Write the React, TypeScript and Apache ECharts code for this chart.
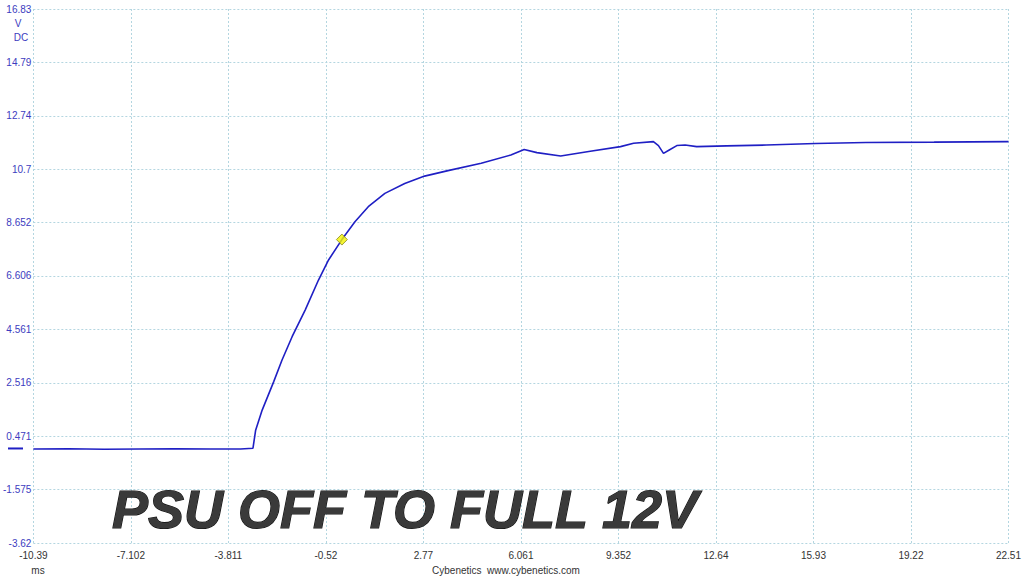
import { useEffect, useRef } from "react";
import * as echarts from "echarts";

// scope capture, time in ms vs volts DC
const TIME_MS = [
  -10.39, -9.2, -8.0, -6.8, -5.6, -4.4, -3.4, -2.98, -2.93, -2.89, -2.67, -2.28, -2.0, -1.66,
  -1.22, -0.77, -0.43, 0.02, 0.46, 0.91, 1.47, 2.14, 2.81, 3.6, 4.72, 5.72, 6.17, 6.6, 7.4, 8.4,
  9.42, 9.86, 10.53, 10.7, 10.87, 11.05, 11.32, 11.6, 11.99, 13.0, 14.34, 16.0, 17.7, 20.0, 22.51,
];
const VOLTS = [
  -0.02, -0.01, -0.03, -0.02, -0.01, -0.02, -0.02, 0.01, 0.4, 0.7, 1.47, 2.56, 3.39, 4.28,
  5.3, 6.45, 7.22, 8.0, 8.68, 9.26, 9.77, 10.15, 10.43, 10.64, 10.92, 11.24, 11.45, 11.33, 11.2,
  11.38, 11.56, 11.69, 11.75, 11.6, 11.3, 11.42, 11.6, 11.62, 11.56, 11.59, 11.62, 11.68, 11.72,
  11.73, 11.75,
];
const MARKER = [0.02, 8.0];

const X_TICKS = [-10.39, -7.102, -3.811, -0.52, 2.77, 6.061, 9.352, 12.64, 15.93, 19.22, 22.51];
const Y_TICKS = [-3.62, -1.575, 0.471, 2.516, 4.561, 6.606, 8.652, 10.7, 12.74, 14.79, 16.83];

const TITLE = "PSU OFF TO FULL 12V";
const TRACE = "#1f1fc4";
const AXIS_BLUE = "#3c3cc0";
const GRID = "#b4d6e0";
const FONT = '"Liberation Sans", Arial, sans-serif';

export default function App() {
  const ref = useRef<HTMLDivElement>(null);

  useEffect(() => {
    if (!ref.current) return;
    const chart = echarts.init(ref.current, undefined, { renderer: "svg" });

    const gridLine = { show: true, lineStyle: { color: GRID, type: [2, 2] as number[], width: 1 } };

    chart.setOption({
      animation: false,
      backgroundColor: "#ffffff",
      grid: { left: 30, right: 14, top: 9, bottom: 33, containLabel: false },
      xAxis: {
        type: "value",
        min: X_TICKS[0],
        max: X_TICKS[X_TICKS.length - 1],
        axisLine: { show: false },
        axisTick: { show: false, customValues: X_TICKS },
        axisLabel: {
          customValues: X_TICKS,
          color: "#333",
          fontFamily: FONT,
          fontSize: 10,
          margin: 7,
          formatter: (v: number) => String(v),
        },
        splitLine: gridLine,
      },
      yAxis: {
        type: "value",
        min: Y_TICKS[0],
        max: Y_TICKS[Y_TICKS.length - 1],
        axisLine: { show: false },
        axisTick: { show: false, customValues: Y_TICKS },
        axisLabel: {
          customValues: Y_TICKS,
          color: AXIS_BLUE,
          fontFamily: FONT,
          fontSize: 10,
          margin: 2,
          formatter: (v: number) => String(v),
        },
        splitLine: gridLine,
      },
      series: [
        {
          type: "line",
          data: TIME_MS.map((t, i) => [t, VOLTS[i]]),
          showSymbol: false,
          lineStyle: { color: TRACE, width: 1.6 },
          z: 3,
        },
        {
          type: "scatter",
          data: [MARKER],
          symbol: "diamond",
          symbolSize: 11,
          itemStyle: { color: "#f2f200", borderColor: "#8a8a20", borderWidth: 1 },
          z: 4,
        },
      ],
    });

    const zeroY = chart.convertToPixel({ yAxisIndex: 0 }, 0) as number;

    const small = (text: string, x: number, y: number, fill: string) => ({
      type: "text",
      style: { text, x, y, fill, font: `10px ${FONT}`, textAlign: "center", textVerticalAlign: "middle" },
    });

    chart.setOption({
      graphic: [
        {
          type: "line",
          shape: { x1: 8, y1: zeroY, x2: 23, y2: zeroY },
          style: { stroke: TRACE, lineWidth: 2 },
        },
        small("V", 18, 23, AXIS_BLUE),
        small("DC", 21, 37, AXIS_BLUE),
        small("ms", 38, 570, "#333"),
        small("Cybenetics  www.cybenetics.com", 506, 570, "#333"),
        {
          type: "text",
          z: 10,
          style: {
            text: TITLE,
            x: 112,
            y: 509,
            font: `italic bold 54px ${FONT}`,
            textAlign: "left",
            textVerticalAlign: "middle",
            fill: "#3a3a3a",
            stroke: "#101010",
            lineWidth: 1.2,
            shadowColor: "rgba(0,0,0,0.35)",
            shadowBlur: 3,
            shadowOffsetX: 2,
            shadowOffsetY: 2,
          },
        },
      ],
    });

    return () => chart.dispose();
  }, []);

  return (
    <div
      ref={ref}
      style={{ position: "absolute", left: 0, top: 0, width: "1024px", height: "576px" }}
    />
  );
}
